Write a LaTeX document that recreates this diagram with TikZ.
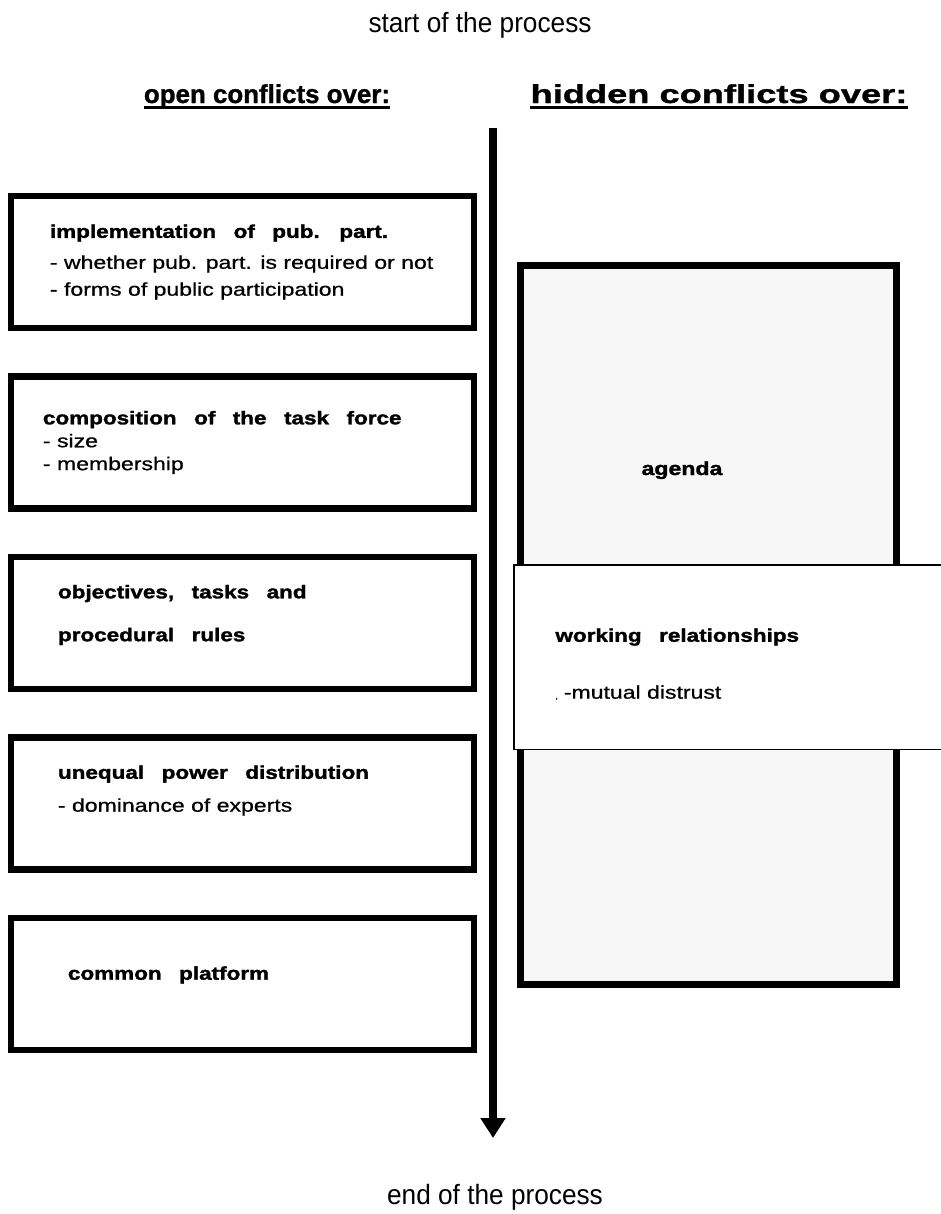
\documentclass[tikz,border=0pt]{standalone}
\usepackage{fontspec}
\setmainfont{Liberation Sans}[FakeStretch=0.94]
\newfontfamily\headfont{Liberation Sans}[FakeStretch=1.22,WordSpace=2.8,BoldFeatures={FakeBold=1.6}]
\newfontfamily\subfont{Liberation Sans}[FakeStretch=1.25,FakeBold=0.8]
\newfontfamily\openfont{Liberation Sans}[FakeStretch=1.0,BoldFeatures={FakeBold=1.2}]
\newfontfamily\hiddenfont{Liberation Sans}[FakeStretch=1.4,BoldFeatures={FakeBold=1.2}]
\usetikzlibrary{arrows.meta,positioning}
\tikzset{conflictbox/.style={
    % The shape:
    rectangle,
    minimum width=463bp,
    minimum height=132bp,
    inner sep=0pt,
    % The border:
    line width=6.5pt,
    draw=black,
    },
    hiddenbox/.style={
    rectangle,
    minimum width=376bp,
    minimum height=719bp,
    line width=7pt,
    draw=black,
    fill=black!3,
    },
    overlaybox/.style={
    rectangle,
    minimum width=446bp,
    minimum height=184.5bp,
    line width=1.5pt,
    draw=black,
    fill=white,
    },
    boxtext/.style={
    align=left,
    inner sep=0pt,
    font=\subfont\fontsize{18.5}{23}\selectfont,
    },
    headtext/.style={
    inner sep=0pt,
    anchor=base,
    font=\headfont\bfseries\fontsize{19}{23}\selectfont,
    },
    header/.style={
    inner sep=0pt,
    anchor=base,
    },
    processtext/.style={
    inner sep=0pt,
    anchor=base,
    font=\fontsize{28}{32}\selectfont,
    },
    ulline/.style={line width=3pt},
    timeline/.style={line width=8pt,-{Triangle[width=24pt,length=20pt]}},
}
\newcommand{\hd}[1]{{\headfont\bfseries #1}}

\begin{document}
\begin{tikzpicture}[x=1bp,y=-1bp]
    \path[use as bounding box,fill=white] (0,0) rectangle (941,1214);

    \node (start) [processtext] at (480,32)   {start of the process};
    \node (end)   [processtext] at (495,1204) {end of the process};

    \node (hopen)   [header,font=\openfont\bfseries\fontsize{26}{30}\selectfont]   at (267,103) {open conflicts over:};
    \node (hhidden) [header,font=\hiddenfont\bfseries\fontsize{26}{30}\selectfont] at (719,103) {hidden conflicts over:};
    \draw[ulline] ([yshift=-4.5pt]hopen.base west) -- ([yshift=-4.5pt]hopen.base east);
    \draw[ulline] ([yshift=-4.5pt]hhidden.base west) -- ([yshift=-4.5pt]hhidden.base east);

    \coordinate (ttop) at (493,128);
    \coordinate (tend) at (493,1138);
    \draw[timeline] (ttop) -- (tend);

    % open conflicts
    \node (impl)   [conflictbox] at (242.5,262) {};
    \node (comp)   [conflictbox,below=42bp of impl]  {};
    \node (obj)    [conflictbox,below=42bp of comp]  {};
    \node (power)  [conflictbox,below=42bp of obj]   {};
    \node (common) [conflictbox,below=42bp of power] {};

    \node (timpl)   [boxtext,right=42bp of impl.west]
        {\hd{implementation of pub. part.}\\[8bp] - whether pub. part. is required or not\\[4bp] - forms of public participation};
    \node (tcomp)   [boxtext,right=35bp of comp.west]
        {\hd{composition of the task force}\\ - size\\ - membership};
    \node (tobj)    [boxtext,right=50bp of obj.west,yshift=8pt]
        {\hd{objectives, tasks and}\\[20bp] \hd{procedural rules}};
    \node (tpower)  [boxtext,right=50bp of power.west,yshift=13pt]
        {\hd{unequal power distribution}\\[10bp] - dominance of experts};
    \node (tcommon) [boxtext,right=60bp of common.west,yshift=9pt]
        {\hd{common platform}};

    % hidden conflicts
    \node (agenda) [hiddenbox] at (708.5,625) {};
    \node (tagenda) [headtext] at (682,475) {agenda};
    \node (work) [overlaybox] at (737,657) {};
    \node (twork) [boxtext,right=42bp of work.west,yshift=-7pt]
        {\hd{working relationships}\\[34bp] {\scriptsize ,}\hspace{6bp}-mutual distrust};
\end{tikzpicture}
\end{document}
